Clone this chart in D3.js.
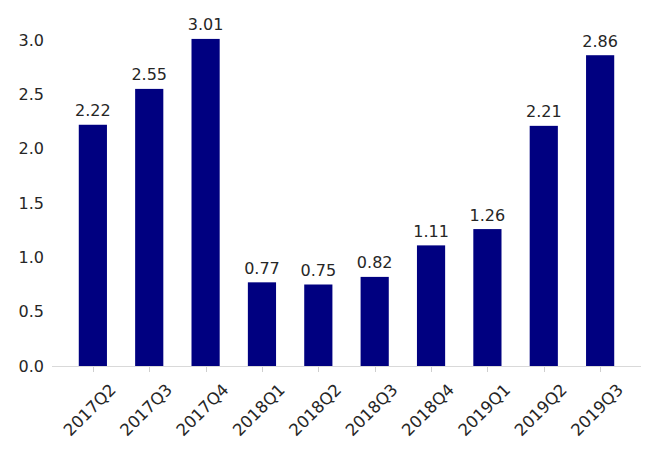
<!DOCTYPE html>
<html><head><meta charset="utf-8">
<script src="https://cdn.jsdelivr.net/npm/d3@7"></script>
<style>body{margin:0;background:#fff}text{font-family:"DejaVu Sans",sans-serif;fill:#262626}</style>
</head><body>
<svg id="c" width="645" height="450"></svg>
<script>
const categories = ["2017Q2","2017Q3","2017Q4","2018Q1","2018Q2","2018Q3","2018Q4","2019Q1","2019Q2","2019Q3"];
const values = [2.22,2.55,3.01,0.77,0.75,0.82,1.11,1.26,2.21,2.86];
const labels = ["2.22","2.55","3.01","0.77","0.75","0.82","1.11","1.26","2.21","2.86"];
const yTicks = [0,0.5,1.0,1.5,2.0,2.5,3.0];

const svg = d3.select("#c");
const left = 52, right = 641, bottom = 366;
const x = d3.scaleLinear().domain([-0.725, 9.725]).range([left, right]);
const y = d3.scaleLinear().domain([0, 3.0]).range([bottom, 40]);
const bw = x(0.5) - x(0);

svg.selectAll("rect.bar").data(values).enter().append("rect")
  .attr("x", (d,i)=>x(i)-bw/2).attr("width", bw)
  .attr("y", d=>y(d)).attr("height", d=>bottom-y(d))
  .attr("fill", "#000080");

svg.append("line").attr("x1", left).attr("x2", right).attr("y1", bottom+0.5).attr("y2", bottom+0.5)
  .attr("stroke", "#d9d9d9").attr("stroke-width", 1.2);

svg.selectAll("line.tick").data(categories).enter().append("line")
  .attr("x1", (d,i)=>Math.round(x(i))+0.5).attr("x2", (d,i)=>Math.round(x(i))+0.5)
  .attr("y1", bottom+1).attr("y2", bottom+6).attr("stroke", "#cfcfcf").attr("stroke-width", 1);

svg.selectAll("text.xl").data(categories).enter().append("text")
  .attr("text-anchor", "middle").attr("dominant-baseline", "central")
  .attr("font-size", "16.5px")
  .attr("transform", (d,i)=>`translate(${x(i)-3},${410}) rotate(-45)`)
  .text(d=>d);

svg.selectAll("text.yl").data(yTicks).enter().append("text")
  .attr("x", 44).attr("y", d=>y(d)).attr("text-anchor", "end").attr("dominant-baseline", "central")
  .attr("font-size", "16px").text(d=>d.toFixed(1));

svg.selectAll("text.vl").data(values).enter().append("text")
  .attr("x", (d,i)=>x(i)).attr("y", d=>y(d)-8.5).attr("text-anchor", "middle")
  .attr("font-size", "16px").text((d,i)=>labels[i]);
</script>
</body></html>
